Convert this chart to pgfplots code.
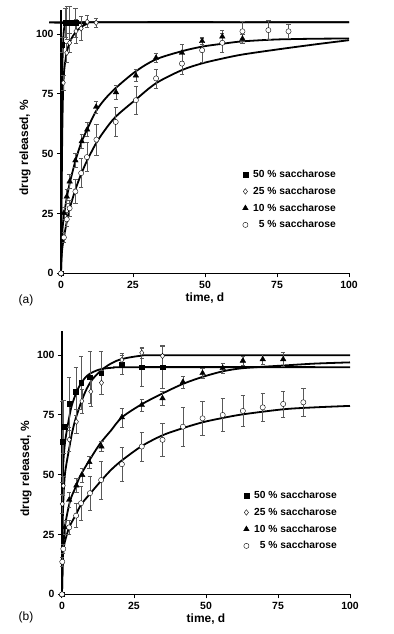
\documentclass[border=0pt]{standalone}
\usepackage{fontspec}
\setmainfont{Liberation Sans}
\usepackage{pgfplots}
\usepackage{pgfplotstable}
\pgfplotsset{compat=1.18}

% ---------- panel (a) data ----------
\pgfplotstableread{
t y e
0 0 0
0.45 95.5 3
1.5 104.8 6
2 104.8 7
3 104.8 7
5 104.8 6
}\aSq
\pgfplotstableread{
t y e
0 0 0
0.8 79.7 3
2 92.2 4
3 96.4 4
5.2 101.3 5
7 102.4 5
9.1 105.2 2.5
12.2 104.8 2
}\aDi
\pgfplotstableread{
t y e
0 0 0
1 25.2 2.5
2 32.1 3
3 38.4 3
5 47.2 3
7.2 55.2 3
9.1 60.1 3
12.2 69.6 2.5
19.1 75.7 3
26 82.7 2.5
33 90.1 2
42 92.2 3.5
49 97.1 1.5
56 99 2.5
63 98.1 2
}\aTr
\pgfplotstableread{
t y e
0 0 0
1 15 2
2 22.6 3
3 27.2 3.5
5 34.2 5
7 41.9 6
9 48.6 6
12.3 55.9 6.5
19 63.3 6
26 72.4 6
33 81.5 4
42 87.7 4.5
49 93.3 5
56 96.4 4
63 101.2 4
72 101.7 4
79 101.2 3
}\aCi

% ---------- panel (b) data ----------
\pgfplotstableread{
t y e
0 0 0
0.1 63.8 17
0.5 70.1 11
2.5 79.6 11
4.8 84.8 10
6.6 88.5 11
9.7 90.8 11
13.6 92.5 9
20.8 96 4
27.7 95 8
34.9 95 9
}\bSq
\pgfplotstableread{
t y e
0 0 0
0.1 37.8 4
0.45 45.4 4
2.5 64.7 5
5 72.2 5
6.9 80.8 5
10 84.8 6
13.7 88.5 5
20.8 98 3
27.7 101 2.5
34.9 99.7 4
}\bDi
\pgfplotstableread{
t y e
0 0 0
1 28 3
2.5 39.5 3
5 45.5 3
7 49.9 3
9.5 55.3 2.5
13.7 61.8 2
20.8 74 4
27.7 79.2 2.5
34.9 82 3
42 88.8 2.5
48.8 92.5 2
55.8 94.6 2
62.8 97.7 2
69.7 98.3 2
76.8 98.3 3
}\bTr
\pgfplotstableread{
t y e
0 0 0
0.1 13.6 2
0.45 19 2
2.5 28 3
4.9 32.9 5
6.6 38.1 7
9.7 42.3 7
13.6 47.8 8
20.8 54.4 7
27.7 61.8 6
34.9 64.6 7
42 70.1 8
48.8 73.6 7
55.8 75 7
62.8 76.7 6.4
69.7 78.2 5.8
76.8 79.6 5.4
83.8 80.3 5.7
}\bCi

\pgfplotsset{
  myax/.style={
    scale only axis, width=288bp, height=263bp,
    xmin=0, xmax=100, ymin=0, ymax=110,
    axis x line*=bottom, axis y line*=left,
    axis line style={line width=1.3bp, -},
    xtick={0,25,50,75,100}, ytick={0,25,50,75,100},
    tick style={line width=1bp, black},
    tick align=outside, major tick length=4bp,
    /pgf/number format/assume math mode=true,
    ticklabel style={font=\fontsize{10.5}{12}\selectfont\bfseries},
    xlabel={time, d}, ylabel={drug released, \%},
    label style={font=\fontsize{12}{14}\selectfont\bfseries},
    xlabel style={at={(axis description cs:0.5,-0.094)}, anchor=center},
    ylabel style={at={(axis description cs:-0.125,0.478)}, anchor=center},
    clip=false,
    legend cell align=left,
    legend style={draw=none, fill=none, inner sep=0pt,
      at={(axis cs:63,44)}, anchor=north west,
      font=\fontsize{10.3}{12}\selectfont\bfseries, row sep=3.8bp, column sep=3bp},
  },
  lm/.style={legend image code/.code={\draw[mark repeat=2,mark phase=2,##1] plot coordinates {(0bp,0bp)(3bp,0bp)(6bp,0bp)};}},
  curve/.style={black, line width=1.8bp, smooth, no marks, forget plot},
  pts/.style={only marks, lm, black, mark options={line width=0.8bp},
    error bars/y dir=both, error bars/y explicit,
    error bars/error bar style={line width=0.6bp, black!65},
    error bars/error mark options={rotate=90, mark size=2.2bp, line width=0.6bp, black!65}},
  sq/.style={mark=square*, mark size=2.3bp, mark options={fill=black}},
  di/.style={mark=diamond*, mark size=2.8bp, mark options={fill=white}},
  tr/.style={mark=triangle*, mark size=3.2bp, mark options={fill=black}},
  ci/.style={mark=*, mark size=2.6bp, mark options={fill=white}},
}

\begin{document}
\begin{tikzpicture}
\path[use as bounding box] (0,0) rectangle (394bp,634bp);

% ================= panel (a) =================
\begin{axis}[myax, at={(61bp,360.7bp)}, anchor=south west]
\addplot[curve] coordinates {(0,0)(0.2,52)(0.35,74)(0.5,87)(0.7,96)(1,101.8)(1.5,104.5)(2,105)(100,105)};
\addplot[curve] coordinates {(0,0)(0.2,30)(0.4,55)(0.6,70)(0.8,79)(1.2,86)(2,92.5)(3,96.5)(4,99)(5,100.8)(7,103)(9,104.3)(12,105)(100,105)};
\addplot[curve] coordinates {(0,0)(0.2,10)(0.5,18)(1,24)(2,31.5)(3,37.5)(5,47)(7,54.5)(9,60)(12,67.5)(15,72.5)(19,77.5)(26,84.5)(33,89.5)(42,92.9)(49,94.8)(56,96)(63,97)(75,97.8)(88,98.1)(100,98.2)};
\addplot[curve] coordinates {(0,0)(0.2,7)(0.5,11)(1,15)(2,21.5)(3,27)(5,35)(7,41.5)(9,47)(12,54)(15,59.5)(19,65.5)(26,72.7)(33,79.5)(42,85)(49,87.8)(56,89.8)(63,91.5)(75,93.6)(88,95.7)(100,97.5)};
\addplot[pts, sq] table[x=t, y=y, y error=e] {\aSq};
\addplot[pts, di] table[x=t, y=y, y error=e] {\aDi};
\addplot[pts, tr] table[x=t, y=y, y error=e] {\aTr};
\addplot[pts, ci] table[x=t, y=y, y error=e] {\aCi};
\legend{50 \% saccharose, 25 \% saccharose, 10 \% saccharose, \phantom{0}5 \% saccharose}
\node[font=\fontsize{12}{14}\selectfont, anchor=center] at (axis description cs:-0.1215,-0.103) {(a)};
\end{axis}

% ================= panel (b) =================
\begin{axis}[myax, at={(62bp,39.7bp)}, anchor=south west]
\addplot[curve] coordinates {(0,0)(0.1,30)(0.25,45)(0.45,55)(1,63)(1.6,68)(2.5,74)(3.4,79)(5,84.5)(6.3,87.6)(8,90.5)(9.7,92.3)(12,93.6)(14,94.3)(18,94.8)(25,95)(100,95)};
\addplot[curve] coordinates {(0,0)(0.1,20)(0.3,33)(0.6,43)(1,50)(1.6,55)(2.5,61)(3.4,67)(4.5,72.5)(5.7,77)(7,81.5)(8.6,86)(10.5,89.8)(13.2,93.2)(16,95.8)(20.2,98.2)(27,99.7)(35,100)(100,100)};
\addplot[curve] coordinates {(0,0)(0.3,15)(1,28)(2.8,39)(4.8,45)(6.3,49.5)(9.5,56)(13.2,63)(17,68.5)(20.8,74)(27.7,79.5)(34.9,84)(42,88)(49,91)(56,93.3)(63,94.6)(77,95.7)(88,96.5)(100,97)};
\addplot[curve] coordinates {(0,0)(0.2,12)(0.5,19)(1,22)(2.5,28)(4.9,33.5)(6.6,37.5)(9.7,42)(13.6,47.5)(17,52)(20.8,56)(27.7,62)(34.9,66.5)(42,69.5)(49,72)(56,73.8)(63,75.3)(77,77.4)(88,78.2)(100,78.8)};
\addplot[pts, sq] table[x=t, y=y, y error=e] {\bSq};
\addplot[pts, di] table[x=t, y=y, y error=e] {\bDi};
\addplot[pts, tr] table[x=t, y=y, y error=e] {\bTr};
\addplot[pts, ci] table[x=t, y=y, y error=e] {\bCi};
\legend{50 \% saccharose, 25 \% saccharose, 10 \% saccharose, \phantom{0}5 \% saccharose}
\node[font=\fontsize{12}{14}\selectfont, anchor=center] at (axis description cs:-0.125,-0.089) {(b)};
\end{axis}
\end{tikzpicture}
\end{document}
